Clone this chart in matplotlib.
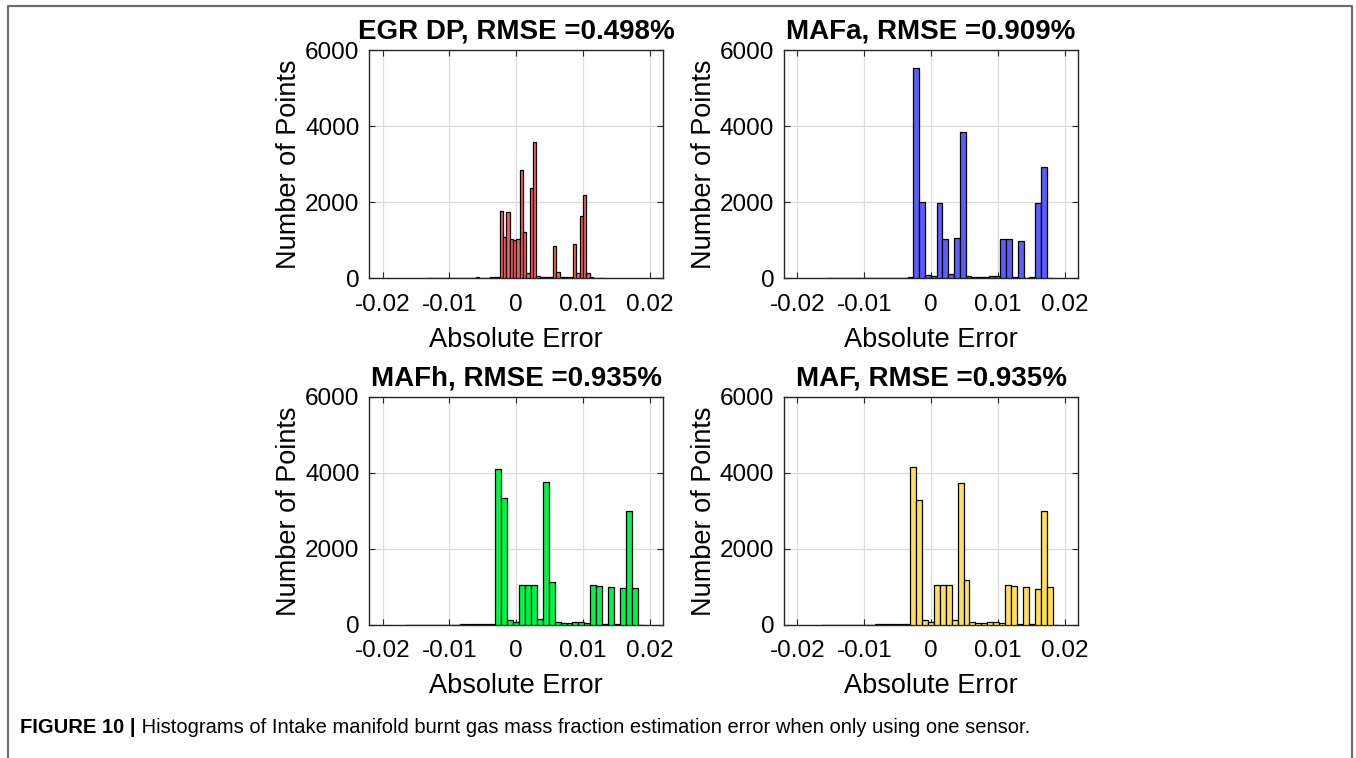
import matplotlib.pyplot as plt
from matplotlib.lines import Line2D
import numpy as np

# ---- data ----
titles = ['EGR DP, RMSE =0.498%', 'MAFa, RMSE =0.909%',
          'MAFh, RMSE =0.935%', 'MAF, RMSE =0.935%']

# EGR DP: bin width 0.0005
egr_first_edge = -0.0135
egr_width = 0.0005
egr_counts = [8, 10, 6, 0, 5, 12, 15, 10, 8, 12, 20, 15, 10, 18, 22, 25, 20, 15, 18, 25, 30, 35,
              1770, 1085, 1735, 1025, 1010, 1035, 2850, 1225, 130, 2370, 3580, 70, 45, 40, 45, 40,
              860, 175, 40, 45, 40, 40, 900, 140, 1640, 2185, 140, 25, 20, 15, 10]

# MAFa
mafa_first_edge = -0.01566
mafa_width = 0.000868
mafa_counts = [6, 8, 5, 10, 12, 8, 6, 10, 15, 12, 18, 20, 15, 22, 25,
               5530, 2000, 88, 61, 1990, 1025, 114, 1065, 3850, 70, 44, 26, 44, 52, 52,
               1025, 1025, 44, 990, 18, 44, 1970, 2915, 12]

# MAFh
mafh_first_edge = -0.01645
mafh_width = 0.000888
mafh_counts = [5, 8, 6, 10, 8, 12, 10, 6, 12, 15, 18, 14, 20, 22, 25,
               4100, 3350, 130, 70, 1040, 1040, 1040, 148, 3770, 1135, 70, 44, 44, 70, 70, 44,
               1048, 1030, 26, 1005, 26, 960, 2995, 985, 10]

# MAF
maf_first_edge = -0.01645
maf_width = 0.000888
maf_counts = [5, 8, 6, 10, 8, 12, 10, 6, 12, 15, 18, 14, 20, 22, 25,
              4145, 3290, 130, 70, 1040, 1040, 1040, 130, 3725, 1180, 70, 44, 44, 70, 70, 44,
              1048, 1030, 26, 1005, 26, 952, 2995, 987, 10]

x_ticks = [-0.02, -0.01, 0, 0.01, 0.02]
x_tick_labels = ['-0.02', '-0.01', '0', '0.01', '0.02']
y_ticks = [0, 2000, 4000, 6000]

series = [
    (egr_first_edge, egr_width, egr_counts, '#ff5e5e'),
    (mafa_first_edge, mafa_width, mafa_counts, '#5c5cff'),
    (mafh_first_edge, mafh_width, mafh_counts, '#00f548'),
    (maf_first_edge, maf_width, maf_counts, '#ffdf5a'),
]

plt.rcParams['font.family'] = ['Liberation Sans', 'DejaVu Sans']

fig = plt.figure(figsize=(13.56, 7.58), dpi=100)

positions = [
    [0.2723, 0.6328, 0.2168, 0.3012],
    [0.5782, 0.6328, 0.2168, 0.3012],
    [0.2723, 0.1755, 0.2168, 0.3008],
    [0.5782, 0.1755, 0.2168, 0.3008],
]

for pos, title, (first_edge, width, counts, color) in zip(positions, titles, series):
    ax = fig.add_axes(pos)
    counts = np.array(counts, dtype=float)
    edges = first_edge + width * np.arange(len(counts) + 1)
    ax.hist(edges[:-1] + width / 2, bins=edges, weights=counts,
            color=color, edgecolor='black', linewidth=0.9, zorder=3)
    ax.set_xlim(-0.022, 0.022)
    ax.set_ylim(0, 6000)
    ax.set_xticks(x_ticks)
    ax.set_xticklabels(x_tick_labels)
    ax.set_yticks(y_ticks)
    ax.grid(True, color='#dcdcdc', linewidth=0.9, zorder=0)
    ax.set_axisbelow(True)
    ax.tick_params(direction='in', length=4, width=0.8, top=True, right=True,
                   labelsize=17.5, color='#262626')
    ax.tick_params(axis='x', pad=11)
    ax.tick_params(axis='y', pad=7)
    for s in ax.spines.values():
        s.set_linewidth(1.0)
        s.set_color('#262626')
    ax.set_xlabel('Absolute Error', fontsize=19.5, labelpad=8)
    ax.set_ylabel('Number of Points', fontsize=19.5, labelpad=2)
    ax.set_title(title, fontsize=20, fontweight='bold', pad=8.5)

# frame around the figure (open at the bottom)
frame_color = '#6e6e6e'
fig.add_artist(Line2D([0.0059, 0.0059, 0.9971, 0.9971], [0.0, 0.992, 0.992, 0.0],
                      transform=fig.transFigure, color=frame_color, linewidth=1.6))

cap_family = ['Liberation Sans', 'DejaVu Sans']
t1 = fig.text(0.0148, 0.033, 'FIGURE 10 |', fontsize=14.5, fontweight='bold',
              family=cap_family, va='baseline')
fig.add_artist(plt.Annotation(
    ' Histograms of Intake manifold burnt gas mass fraction estimation error when only using one sensor.',
    xy=(1, 0), xycoords=t1, va='bottom', ha='left', fontsize=14.5, family=cap_family))

fig.savefig('out.png', dpi=100)
